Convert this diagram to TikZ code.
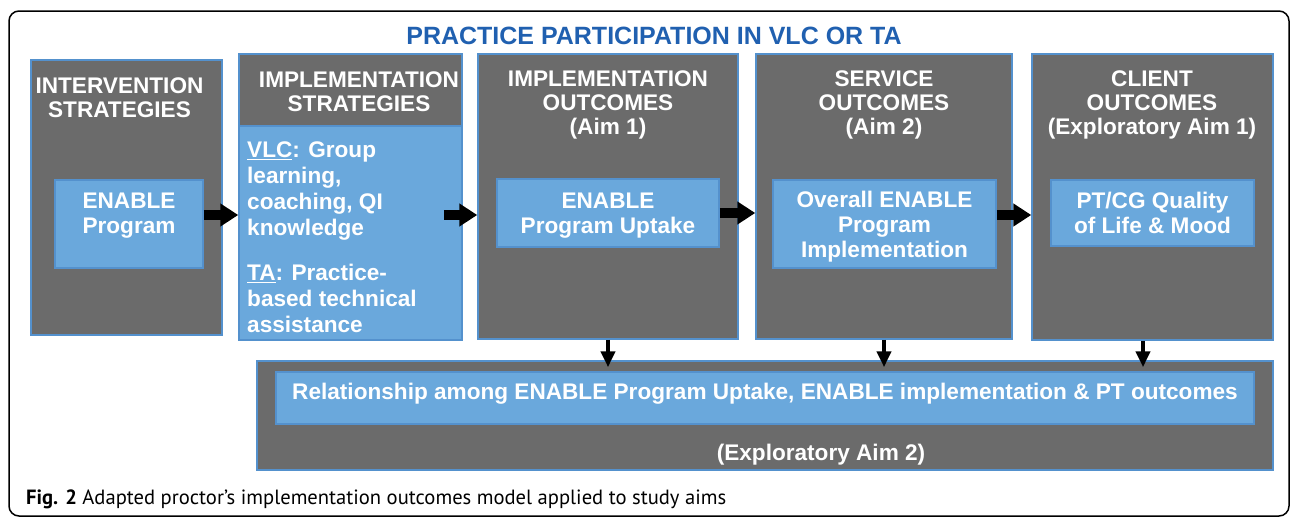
\documentclass[tikz,border=0pt]{standalone}
\usepackage{fontspec}
\setmainfont{Liberation Sans}
\newfontfamily\captionfont{PT Sans}
\usetikzlibrary{arrows.meta}

\definecolor{stagegray}{RGB}{107,107,107}
\definecolor{stageblue}{RGB}{106,168,220}
\definecolor{edgeblue}{RGB}{84,145,205}
\definecolor{titleblue}{RGB}{32,96,176}

\begin{document}
\begin{tikzpicture}[x=1pt,y=-1pt]
    \tikzstyle{stage}=[draw=edgeblue, line width=1.5pt, fill=stagegray, inner sep=0pt]
    \tikzstyle{core}=[stage, fill=stageblue, text=white, align=center,
        font=\bfseries\fontsize{22.6}{25}\selectfont]
    \tikzstyle{head}=[text=white, align=center, inner sep=0pt, anchor=north,
        font=\bfseries\fontsize{22.6}{24}\selectfont]
    \tikzstyle{flow}=[-{Triangle[length=18pt,width=22pt]}, line width=10pt]
    \tikzstyle{drop}=[-{Triangle[length=16pt,width=14pt]}, line width=4pt, shorten >=-7pt]

    \useasboundingbox (0,0) rectangle (1290,517);
    \draw[line width=1.5pt, rounded corners=10pt] (9,11) rectangle (1289,516);

    \node[text=titleblue, font=\bfseries\fontsize{25}{28}\selectfont] (title)
        at (654,35.5) {PRACTICE PARTICIPATION IN VLC OR TA};

    % Draw the five stage columns
    \node[stage, minimum width=191pt, minimum height=275pt] (interv) at (126.5,197.5) {};
    \node[stage, minimum width=223pt, minimum height=286pt] (strat) at (350.5,197) {};
    \node[stage, minimum width=260pt, minimum height=285pt] (implout) at (608,196.5) {};
    \node[stage, minimum width=256pt, minimum height=285pt] (servout) at (884,196.5) {};
    \node[stage, minimum width=241pt, minimum height=286pt] (clientout) at (1152.5,197) {};

    % Column headings
    \node[head] (interv-h) at (119.5,78) {INTERVENTION\\STRATEGIES};
    \node[head] (strat-h) at (359,72) {IMPLEMENTATION\\STRATEGIES};
    \node[head] (implout-h) at (608,70.5) {IMPLEMENTATION\\OUTCOMES\\(Aim 1)};
    \node[head] (servout-h) at (884,70.5) {SERVICE\\OUTCOMES\\(Aim 2)};
    \node[head] (clientout-h) at (1152,70.5) {CLIENT\\OUTCOMES\\(Exploratory Aim 1)};

    % Blue boxes inside the columns
    \node[core, minimum width=148pt, minimum height=88pt, text depth=21pt] (prog)
        at (129,224) {ENABLE\\Program};
    \node[core, minimum width=223pt, minimum height=214pt] (vlc) at (350.5,233) {};
    \node[anchor=north west, inner sep=0pt, text=white, align=left,
        font=\bfseries\fontsize{22.6}{26}\selectfont] (vlc-text) at (247,142)
        {\underline{VLC}: Group\\learning,\\coaching, QI\\knowledge\\[18.5pt]
         \underline{TA}: Practice-\\based technical\\assistance};
    \node[core, minimum width=222pt, minimum height=68pt, text depth=-4pt] (upt) at (608,213)
        {ENABLE\\Program Uptake};
    \node[core, minimum width=223pt, minimum height=88pt, text depth=-7pt] (impl) at (884.5,224)
        {Overall ENABLE\\Program\\Implementation};
    \node[core, minimum width=203pt, minimum height=66pt, text depth=-4pt] (qol) at (1152.5,213)
        {PT/CG Quality\\of Life \& Mood};

    % Bottom row
    \node[stage, minimum width=1016pt, minimum height=109pt] (explore) at (765,415.5) {};
    \node[core, minimum width=978pt, minimum height=52pt, text depth=13pt] (relation)
        at (765,398) {Relationship among ENABLE Program Uptake, ENABLE implementation \& PT outcomes};
    \node[head, anchor=center] (aim2) at (821,455) {(Exploratory Aim 2)};

    % Arrows between the columns
    \draw[flow] ([yshift=9pt]prog.east) -- ([yshift=9pt]prog.east -| strat.west);
    \draw[flow] ([xshift=-19pt,yshift=18pt]vlc.east) -- ([yshift=18pt]vlc.east -| implout.west);
    \draw[flow] (upt.east) -- (upt.east -| servout.west);
    \draw[flow] ([yshift=9pt]impl.east) -- ([yshift=9pt]impl.east -| clientout.west);

    % Arrows down into the bottom row
    \foreach \src/\dx in {implout/0, servout/0, clientout/-9.5}
        \draw[drop] ([xshift=\dx pt]\src.south) -- ([xshift=\dx pt]\src.south |- explore.north);

    \node[anchor=base west, inner sep=0pt, font=\captionfont\fontsize{20.6}{24}\selectfont] (caption)
        at (26,504) {\textbf{Fig. 2} Adapted proctor’s implementation outcomes model applied to study aims};
\end{tikzpicture}
\end{document}
